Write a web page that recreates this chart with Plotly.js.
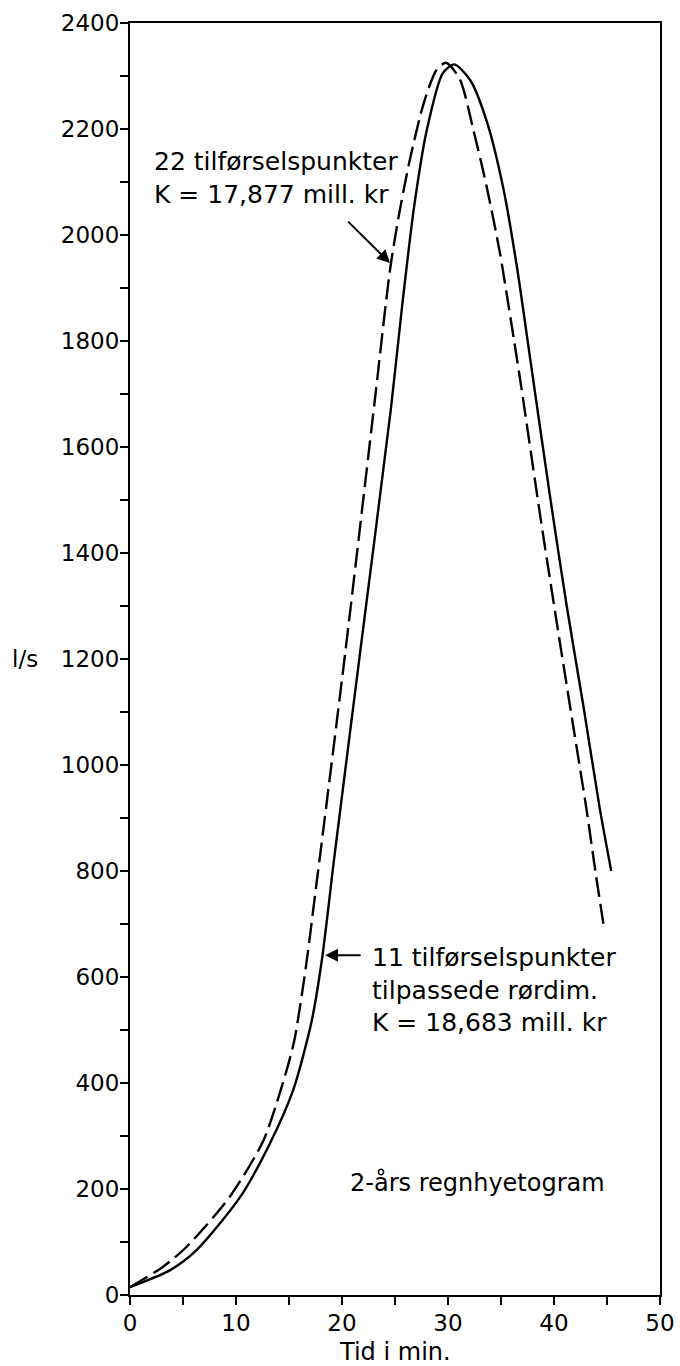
<!DOCTYPE html>
<html>
<head>
<meta charset="utf-8">
<script src="https://cdn.plot.ly/plotly-3.0.1.min.js"></script>
<style>
  html, body { margin: 0; padding: 0; background: #ffffff; }
  #chart { width: 680px; height: 1366px; }
</style>
</head>
<body>
<div id="chart"></div>
<script>
// Time (min) and discharge (l/s)
const solidX = [0, 3.8, 6.3, 10.4, 13.2, 15.4, 17.1, 18.1, 19.3, 21.7, 24.6, 25.7, 26.8, 28.0, 29.5, 30.6, 32.1, 33.65, 35.2, 36.5, 37.8, 39.6, 41.2, 42.8, 44.3, 45.4];
const solidY = [15, 47, 85, 185, 286, 387, 513, 632, 830, 1211, 1670, 1871, 2053, 2198, 2305, 2322, 2292, 2215, 2090, 1940, 1760, 1510, 1300, 1108, 920, 800];

const dashX = [0, 3.1, 5.35, 9.4, 12.6, 14.6, 15.5, 16.6, 17.6, 18.0, 20.3, 23.1, 24.5, 25.3, 26.4, 27.7, 28.9, 29.8, 31.1, 32.4, 33.65, 34.9, 36.2, 36.9, 38.7, 40.25, 41.8, 43.1, 43.9, 44.7];
const dashY = [15, 53, 91, 185, 292, 412, 480, 620, 777, 840, 1211, 1689, 1930, 2030, 2142, 2248, 2311, 2325, 2295, 2198, 2091, 1966, 1805, 1715, 1470, 1270, 1075, 912, 800, 695];

const labelDash = "22 tilførselspunkter<br>K = 17,877 mill. kr";
const labelSolid = "11 tilførselspunkter<br>tilpassede rørdim.<br>K = 18,683 mill. kr";
const labelStorm = "2-års regnhyetogram";
const xTitle = "Tid i min.";
const yTitle = "l/s";

const FONT = "DejaVu Sans, Liberation Sans, Arial, sans-serif";

const traces = [
  {
    x: solidX, y: solidY, type: 'scatter', mode: 'lines',
    name: '11 tilførselspunkter',
    line: { color: '#000', width: 2.4, shape: 'spline', smoothing: 0.7 },
    hoverinfo: 'skip'
  },
  {
    x: dashX, y: dashY, type: 'scatter', mode: 'lines',
    name: '22 tilførselspunkter',
    line: { color: '#000', width: 2.4, dash: '20px,7px', shape: 'spline', smoothing: 0.7 },
    hoverinfo: 'skip'
  }
];

const layout = {
  width: 680, height: 1366,
  margin: { l: 130, r: 20, t: 23, b: 71 },
  paper_bgcolor: '#fff', plot_bgcolor: '#fff',
  showlegend: false,
  font: { family: FONT, color: '#000', size: 23 },
  xaxis: {
    range: [0, 50], dtick: 10, tick0: 0,
    showgrid: false, zeroline: false,
    showline: true, linecolor: '#000', linewidth: 2, mirror: true,
    ticks: 'outside', ticklen: 8, tickwidth: 2, tickcolor: '#000',
    ticklabelstandoff: -2,
    minor: { dtick: 5, ticks: 'outside', ticklen: 8, tickwidth: 2, tickcolor: '#000', showgrid: false },
    tickfont: { family: FONT, size: 23, color: '#000' },
    fixedrange: true
  },
  yaxis: {
    range: [0, 2400], dtick: 200, tick0: 0,
    showgrid: false, zeroline: false,
    showline: true, linecolor: '#000', linewidth: 2, mirror: true,
    ticks: 'outside', ticklen: 8, tickwidth: 2, tickcolor: '#000',
    ticklabelstandoff: -4,
    minor: { dtick: 100, ticks: 'outside', ticklen: 8, tickwidth: 2, tickcolor: '#000', showgrid: false },
    tickfont: { family: FONT, size: 23, color: '#000' },
    fixedrange: true
  },
  annotations: [
    {
      xref: 'x', yref: 'y', x: 2.1, y: 2108,
      xanchor: 'left', yanchor: 'middle', align: 'left',
      text: labelDash, showarrow: false,
      font: { family: FONT, size: 25, color: '#000' }
    },
    {
      xref: 'x', yref: 'y', x: 24.53, y: 1947,
      axref: 'x', ayref: 'y', ax: 20.44, ay: 2028,
      text: '', showarrow: true, arrowhead: 2, arrowsize: 1.3, arrowwidth: 2, arrowcolor: '#000'
    },
    {
      xref: 'x', yref: 'y', x: 22.65, y: 575,
      xanchor: 'left', yanchor: 'middle', align: 'left',
      text: labelSolid, showarrow: false,
      font: { family: FONT, size: 25, color: '#000' }
    },
    {
      xref: 'x', yref: 'y', x: 18.4, y: 641,
      axref: 'x', ayref: 'y', ax: 21.9, ay: 641,
      text: '', showarrow: true, arrowhead: 2, arrowsize: 1.3, arrowwidth: 2, arrowcolor: '#000'
    },
    {
      xref: 'x', yref: 'y', x: 20.6, y: 213,
      xanchor: 'left', yanchor: 'middle', align: 'left',
      text: labelStorm, showarrow: false,
      font: { family: FONT, size: 24, color: '#000' }
    },
    {
      xref: 'paper', yref: 'y', x: -0.226, y: 1200,
      xanchor: 'left', yanchor: 'middle',
      text: yTitle, showarrow: false,
      font: { family: FONT, size: 23, color: '#000' }
    },
    {
      xref: 'paper', yref: 'paper', x: 0.5, y: -0.0445,
      xanchor: 'center', yanchor: 'middle',
      text: xTitle, showarrow: false,
      font: { family: FONT, size: 24, color: '#000' }
    }
  ]
};

Plotly.newPlot('chart', traces, layout, { staticPlot: true, displayModeBar: false });
</script>
</body>
</html>
